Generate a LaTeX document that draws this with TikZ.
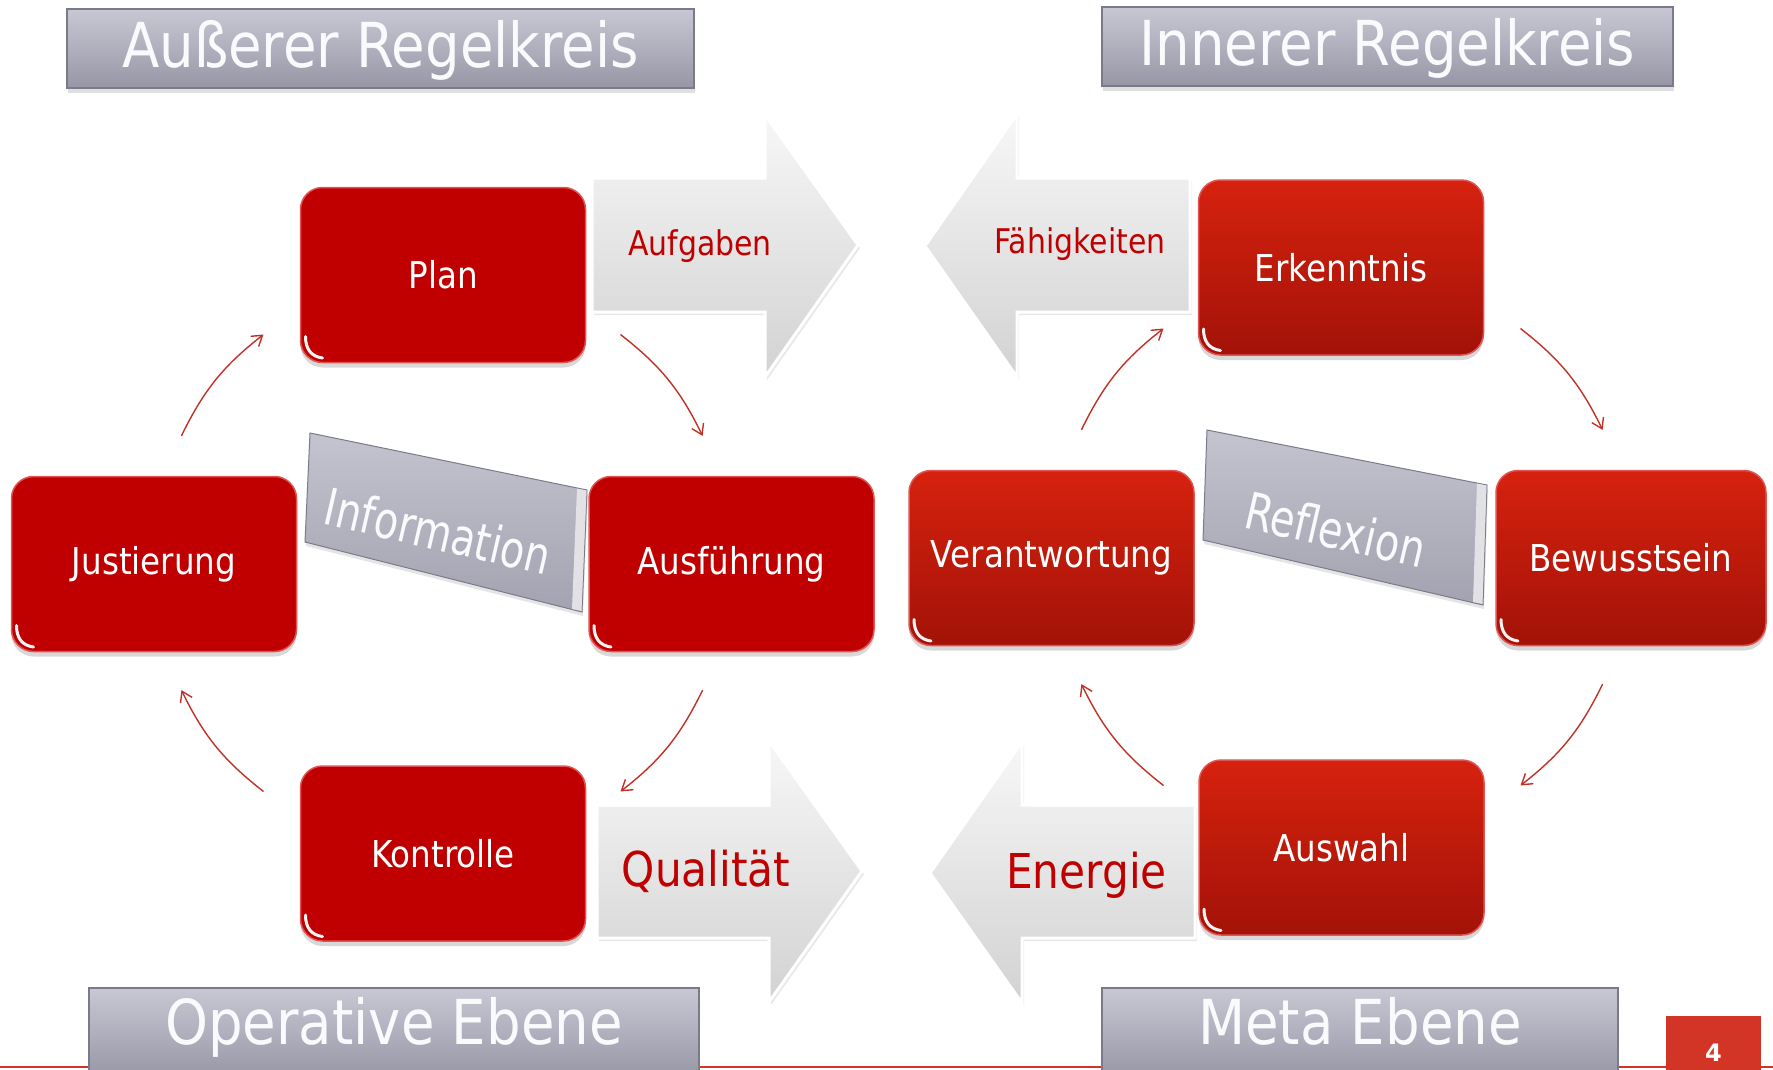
\documentclass[tikz,border=0pt]{standalone}
\usepackage{fontspec}
\setmainfont{DejaVu Sans}[FakeStretch=0.88]
\newfontfamily\numfont{DejaVu Sans}
\usetikzlibrary{arrows.meta,shadows,calc}
\definecolor{boxred}{RGB}{192,0,0}
\definecolor{boxredtop}{RGB}{214,34,14}
\definecolor{boxredbot}{RGB}{163,18,8}
\definecolor{boxredline}{RGB}{224,84,84}
\definecolor{ttop}{RGB}{200,200,212}
\definecolor{tbot}{RGB}{150,150,166}
\definecolor{tline}{RGB}{122,122,138}
\definecolor{btop}{RGB}{196,196,208}
\definecolor{bbot}{RGB}{162,162,176}
\definecolor{bside}{RGB}{226,226,230}
\definecolor{atop}{RGB}{247,247,247}
\definecolor{abot}{RGB}{210,210,210}
\definecolor{conncol}{RGB}{192,50,40}
\definecolor{txtred}{RGB}{192,0,0}
\definecolor{pagered}{RGB}{210,53,37}
\definecolor{titletext}{RGB}{250,250,252}
\tikzset{
  titlebox/.style={draw=tline, line width=1.2pt, top color=ttop, bottom color=tbot, inner sep=0pt,
    drop shadow={shadow xshift=1pt, shadow yshift=-5pt, opacity=0.25}},
  titletxt/.style={anchor=base, text=titletext, font=\fontsize{62}{70}\selectfont, inner sep=0pt},
  glint/.style={path picture={\draw[white, line width=3pt, line cap=round, opacity=0.95]
    ([shift={(5pt,26pt)}]path picture bounding box.south west) .. controls
    ([shift={(5pt,13pt)}]path picture bounding box.south west) and
    ([shift={(11pt,6pt)}]path picture bounding box.south west) ..
    ([shift={(22pt,4.5pt)}]path picture bounding box.south west);}},
  redbox/.style={rounded corners=22pt, minimum width=285pt, minimum height=175pt, inner sep=0pt,
    text=white, font=\fontsize{37}{42}\selectfont, line width=1.5pt,
    drop shadow={shadow xshift=0pt, shadow yshift=-5pt, opacity=0.3}, glint},
  redL/.style={redbox, fill=boxred, draw=boxredline},
  redR/.style={redbox, top color=boxredtop, bottom color=boxredbot, draw=boxredline},
  bigarrow/.style={draw=white, line width=3pt, line join=miter, top color=atop, bottom color=abot,
    drop shadow={shadow xshift=2pt, shadow yshift=-3pt, opacity=0.18}},
  arrowtxt/.style={anchor=base, text=txtred, inner sep=0pt},
  banner/.style={draw=tline, line width=1pt, top color=btop, bottom color=bbot,
    drop shadow={shadow xshift=1pt, shadow yshift=-4pt, opacity=0.2}},
  bannerside/.style={fill=bside},
  bannertxt/.style={anchor=base, text=titletext, inner sep=0pt, rotate=-13, font=\fontsize{51}{56}\selectfont},
  conn/.style={draw=conncol, line width=1.4pt, -{Straight Barb[length=10pt,width=13pt]}},
}
\begin{document}
\begin{tikzpicture}[x=1pt,y=-1pt]
\useasboundingbox (0,0) rectangle (1773,1069);
\fill[white] (0,0) rectangle (1773,1069);
% bottom line
\draw[pagered, line width=1.5pt] (0,1067) -- (1773,1067);
% titles
\node[titlebox, minimum width=627pt, minimum height=79pt] (tA) at (380.5,48.5) {};
\node[titletxt] (tAt) at (380.5,67) {Außerer Regelkreis};
\node[titlebox, minimum width=571pt, minimum height=79pt] (tI) at (1387.5,46.5) {};
\node[titletxt] (tIt) at (1387.5,65) {Innerer Regelkreis};
\node[titlebox, minimum width=610pt, minimum height=90pt] (tO) at (394,1033) {};
\node[titletxt] (tOt) at (394,1044) {Operative Ebene};
\node[titlebox, minimum width=516pt, minimum height=90pt] (tM) at (1360,1033) {};
\node[titletxt] (tMt) at (1360,1044) {Meta Ebene};
% page number
\node[fill=pagered, minimum width=95pt, minimum height=74pt, inner sep=0pt, text=white,
  font=\numfont\bfseries\fontsize{24}{26}\selectfont, text height=17.5pt, text depth=0pt] (pg) at (1713.5,1053) {4};
% big arrows
\path[bigarrow] (592,178) -- (765,178) -- (765,115) -- (858,245) -- (765,377) -- (765,312) -- (592,312) -- cycle;
\path[bigarrow] (1190,178) -- (1017,178) -- (1017,114) -- (925,246) -- (1017,377) -- (1017,312) -- (1190,312) -- cycle;
\path[bigarrow] (597,805) -- (769,805) -- (769,741) -- (862,871) -- (769,1002) -- (769,938) -- (597,938) -- cycle;
\path[bigarrow] (1195,805) -- (1022,805) -- (1022,742) -- (930,873) -- (1022,1003) -- (1022,938) -- (1195,938) -- cycle;
\node[arrowtxt, font=\fontsize{34}{38}\selectfont] (aufg) at (700,255) {Aufgaben};
\node[arrowtxt, font=\fontsize{34}{38}\selectfont] (faeh) at (1080,253) {Fähigkeiten};
\node[arrowtxt, font=\fontsize{48}{52}\selectfont] (qual) at (706,886) {Qualität};
\node[arrowtxt, font=\fontsize{48}{52}\selectfont] (ener) at (1086.5,888) {Energie};
% banners
\path[banner] (310,433) -- (587,490) -- (582,612) -- (305,542) -- cycle;
\path[bannerside] (577,488.5) -- (586.5,490.5) -- (581.5,611) -- (572,609) -- cycle;
\node[bannertxt] (info) at (434,549.5) {\scalebox{0.885}[1]{Information}};
\path[banner] (1207,430) -- (1487,485) -- (1483,605) -- (1203,540) -- cycle;
\path[bannerside] (1477,483.5) -- (1486.5,485.5) -- (1482.5,604) -- (1473,602) -- cycle;
\node[bannertxt] (refl) at (1331.5,548) {\scalebox{0.885}[1]{Reflexion}};
% red boxes
\node[redL] (plan) at (443,275) {Plan};
\node[redL] (just) at (154,564) {Justierung};
\node[redL] (ausf) at (731.5,564) {Ausführung};
\node[redL] (kont) at (443,853.5) {Kontrolle};
\node[redR] (erk) at (1341,267.5) {Erkenntnis};
\node[redR] (ver) at (1051.5,558) {Verantwortung};
\node[redR, minimum width=270pt] (bew) at (1631,558) {Bewusstsein};
\node[redR] (ausw) at (1341.5,847.5) {Auswahl};
% connector end points
\coordinate (a1s) at (620.5,334.5);  \coordinate (a1e) at (702.6,435.9);
\coordinate (a2s) at (702.6,690.1);  \coordinate (a2e) at (620.5,791.5);
\coordinate (a3s) at (263.5,791.5);  \coordinate (a3e) at (181.4,690.1);
\coordinate (a4s) at (181.4,435.9);  \coordinate (a4e) at (263.5,334.5);
\coordinate (b1s) at (1520.5,328.5); \coordinate (b1e) at (1602.6,429.9);
\coordinate (b2s) at (1602.6,684.1); \coordinate (b2e) at (1520.5,785.5);
\coordinate (b3s) at (1163.5,785.5); \coordinate (b3e) at (1081.4,684.1);
\coordinate (b4s) at (1081.4,429.9); \coordinate (b4e) at (1163.5,328.5);
\draw[conn] (a1s) to[bend left=13] (a1e);
\draw[conn] (a2s) to[bend left=13] (a2e);
\draw[conn] (a3s) to[bend left=13] (a3e);
\draw[conn] (a4s) to[bend left=13] (a4e);
\draw[conn] (b1s) to[bend left=13] (b1e);
\draw[conn] (b2s) to[bend left=13] (b2e);
\draw[conn] (b3s) to[bend left=13] (b3e);
\draw[conn] (b4s) to[bend left=13] (b4e);
\end{tikzpicture}
\end{document}
